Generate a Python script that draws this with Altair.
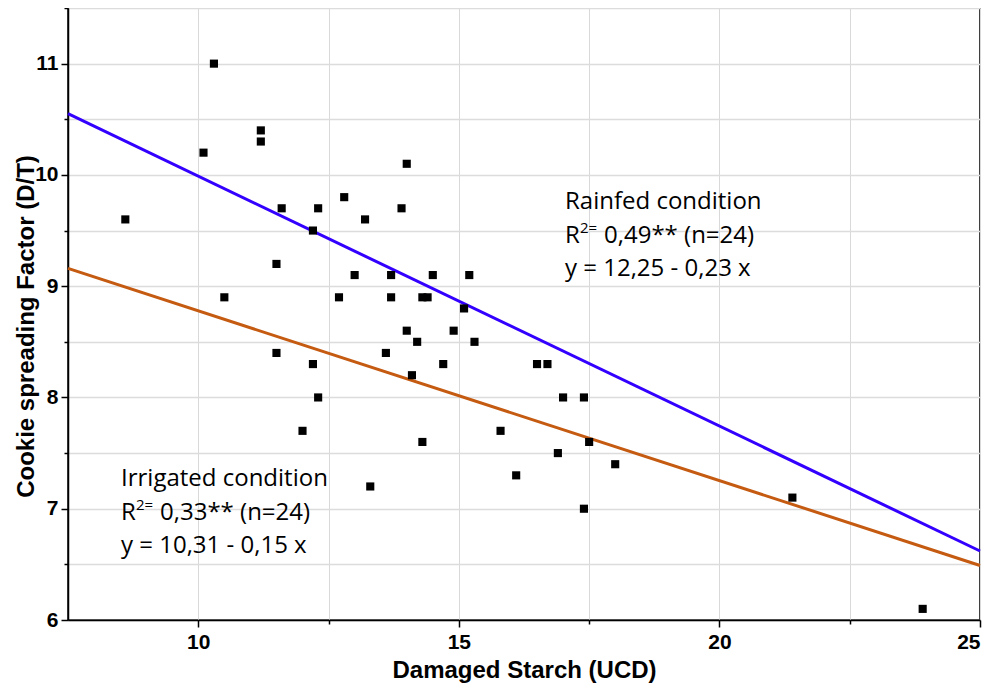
import altair as alt
import pandas as pd

# ---- data ----
starch = [10.3, 11.2, 11.2, 10.1, 8.6, 11.6, 12.3, 12.8, 12.2, 11.5, 13.0, 10.5,
          12.7, 11.5, 12.2, 12.3, 12.0, 14.0, 13.9, 13.2, 13.7, 14.5, 15.2, 13.7,
          14.3, 14.4, 15.1, 14.0, 14.9, 14.2, 15.3, 13.6, 14.7, 16.5, 16.7, 14.1,
          17.0, 17.4, 15.8, 14.3, 17.5, 16.9, 18.0, 16.1, 17.4, 13.3, 21.4, 23.9]
spread = [11.0, 10.4, 10.3, 10.2, 9.6, 9.7, 9.7, 9.8, 9.5, 9.2, 9.1, 8.9,
          8.9, 8.4, 8.3, 8.0, 7.7, 10.1, 9.7, 9.6, 9.1, 9.1, 9.1, 8.9,
          8.9, 8.9, 8.8, 8.6, 8.6, 8.5, 8.5, 8.4, 8.3, 8.3, 8.3, 8.2,
          8.0, 8.0, 7.7, 7.6, 7.6, 7.5, 7.4, 7.3, 7.0, 7.2, 7.1, 6.1]

line_x = [7.5, 25.0]
rainfed_y = [10.55, 6.62]
irrigated_y = [9.16, 6.49]
conditions = ["Rainfed", "Irrigated"]
line_colors = ["#3300ff", "#c55a11"]

x_ticks = [10, 12.5, 15, 17.5, 20, 22.5, 25]
y_ticks = [6, 6.5, 7, 7.5, 8, 8.5, 9, 9.5, 10, 10.5, 11, 11.5]

pts = pd.DataFrame({"starch": starch, "spread": spread})
lines = pd.DataFrame({
    "starch": line_x + line_x,
    "spread": rainfed_y + irrigated_y,
    "cond": [conditions[0]] * 2 + [conditions[1]] * 2,
})

TICK_FONT = "Liberation Sans Narrow, Arial Narrow, Liberation Sans, Arial"
TITLE_FONT = "Liberation Sans, Arial"
ANN_FONT = "Open Sans"

xscale = alt.Scale(domain=[7.5, 25], nice=False, zero=False)
yscale = alt.Scale(domain=[6, 11.5], nice=False, zero=False)

xaxis = alt.Axis(
    values=x_ticks,
    labelExpr="datum.value % 5 === 0 ? format(datum.value, 'd') : ''",
    labelOverlap=False,
    labelFont=TICK_FONT, labelFontSize=21, labelFontWeight="bold", labelColor="black",
    labelPadding=4,
    labelAlign={"condition": {"test": "datum.value === 25", "value": "right"}, "value": "center"},
    tickSize={"condition": {"test": "datum.value % 5 === 0", "value": 7}, "value": 4},
    tickColor="black", tickWidth=1.5,
    domainColor="black", domainWidth=1.5,
    grid=True, gridColor="#d9d9d9", gridWidth=1,
    title="Damaged Starch (UCD)",
    titleFont=TITLE_FONT, titleFontSize=24, titleFontWeight="bold", titleColor="black",
    titleBaseline="alphabetic", titleY=57,
)
yaxis = alt.Axis(
    values=y_ticks,
    labelExpr="datum.value % 1 === 0 ? format(datum.value, 'd') : ''",
    labelOverlap=False,
    labelFont=TICK_FONT, labelFontSize=21, labelFontWeight="bold", labelColor="black",
    labelPadding=3,
    tickSize={"condition": {"test": "datum.value % 1 === 0", "value": 7}, "value": 4},
    tickColor="black", tickWidth=1.5,
    domainColor="black", domainWidth=1.5,
    grid=True, gridColor="#dcdcdc", gridWidth=1.6,
    title="Cookie spreading Factor (D/T)",
    titleFont=TITLE_FONT, titleFontSize=24, titleFontWeight="bold", titleColor="black",
    titleBaseline="alphabetic", titleX=-35, titleY=318, titleAngle=-90,
)

base_lines = alt.Chart(lines).mark_line(strokeWidth=3).encode(
    x=alt.X("starch:Q", scale=xscale, axis=xaxis),
    y=alt.Y("spread:Q", scale=yscale, axis=yaxis),
    color=alt.Color("cond:N", scale=alt.Scale(domain=conditions, range=line_colors), legend=None),
    detail="cond:N",
)

points = alt.Chart(pts).mark_square(size=66, color="black", opacity=1).encode(
    x=alt.X("starch:Q", scale=xscale),
    y=alt.Y("spread:Q", scale=yscale),
)


def txt(s, x, y, size=24):
    return alt.Chart(pd.DataFrame({"t": [s]})).mark_text(
        align="left", baseline="alphabetic", font=ANN_FONT, fontSize=size, color="black"
    ).encode(x=alt.value(x), y=alt.value(y), text="t:N")


def block(title, r2, eq, x, y0):
    return [
        txt(title, x, y0),
        txt("R", x, y0 + 34),
        txt("2=", x + 15, y0 + 24, size=15),
        txt(r2, x + 39, y0 + 34),
        txt(eq, x, y0 + 67),
    ]


annotations = block("Rainfed condition", "0,49** (n=24)", "y = 12,25 - 0,23 x", 497, 201) + \
    block("Irrigated condition", "0,33** (n=24)", "y = 10,31 - 0,15 x", 53, 478)

chart = alt.layer(base_lines, points, *annotations).properties(
    width=912, height=612,
    padding={"left": 60, "top": 0, "right": 4, "bottom": 63},
    autosize=alt.AutoSizeParams(type="none"),
).configure_view(stroke="black", strokeWidth=1.5)

chart.save("out.html", embed_options={"renderer": "svg", "actions": False})
